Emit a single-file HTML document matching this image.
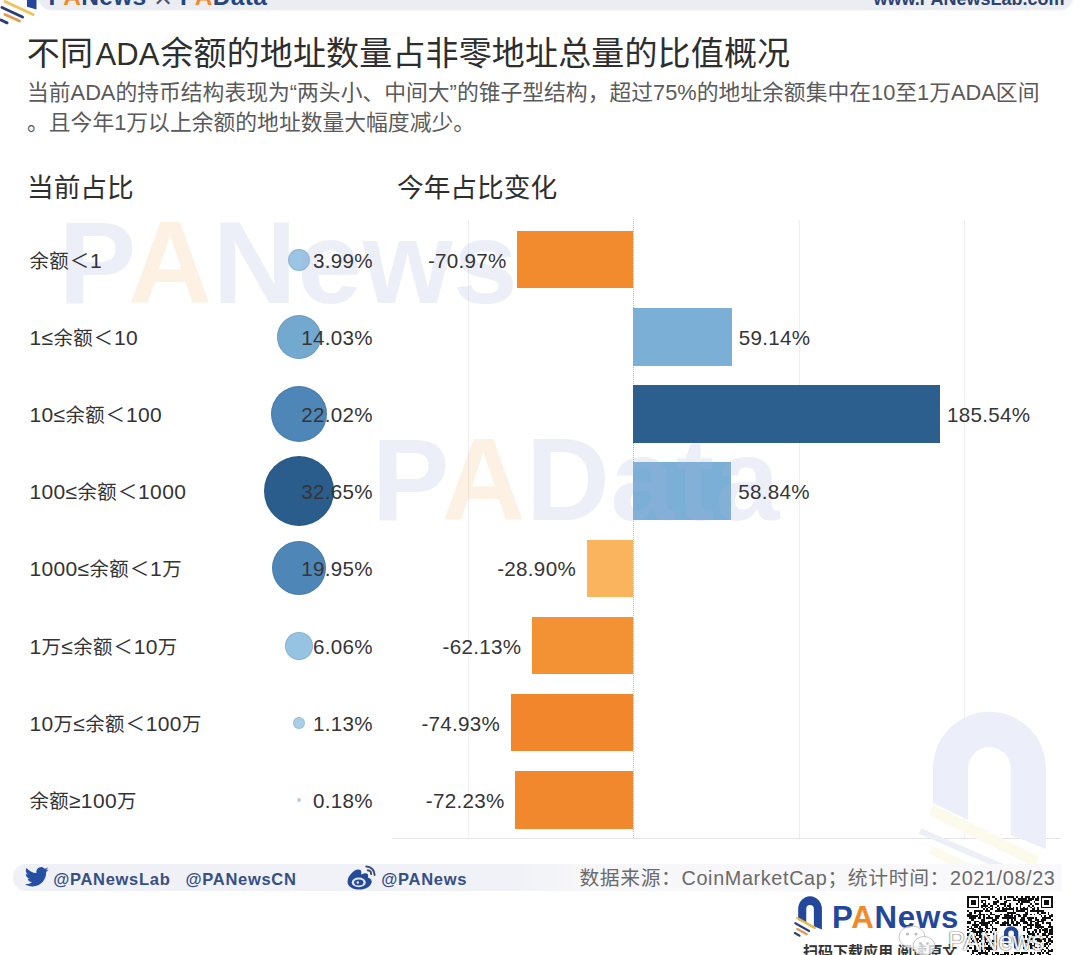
<!DOCTYPE html>
<html lang="zh-CN">
<head>
<meta charset="utf-8">
<title>不同ADA余额的地址数量占非零地址总量的比值概况</title>
<style>
*{margin:0;padding:0;box-sizing:border-box}
html,body{width:1080px;height:955px;overflow:hidden;background:#fff}
body{font-family:"Liberation Sans","Noto Sans CJK SC",sans-serif;color:#333;position:relative}
#wrap{position:absolute;left:0;top:0;width:1080px;height:955px;overflow:hidden;background:#fff}
.abs{position:absolute;white-space:nowrap}
/* header strip */
#topband{left:38px;top:-20px;width:1035px;height:30px;background:#ebedf3;border-radius:0 0 14px 14px;box-shadow:0 0 2.5px #ebedf3}
#brand{left:48.5px;top:-17.5px;font-size:24.5px;line-height:28px;font-weight:700;color:#23467f;letter-spacing:.3px}
#brand i{font-style:normal;color:#f08a2c}
#brand b{font-weight:400;color:#46577f;display:inline-block;width:33.5px;text-align:center;font-size:31px;line-height:0;position:relative;top:3px}
#site{right:15.5px;top:-11px;font-size:18px;line-height:20px;font-weight:700;color:#2c426f}
/* titles */
#title{left:26.8px;top:30.5px;font-size:33px;line-height:46px;color:#2e2e2e;letter-spacing:.15px}
#title span{font-size:31px;letter-spacing:0;margin:0 1px 0 2.5px}
#sub{left:27px;top:77.5px;font-size:21.81px;line-height:30.5px;color:#5a5a5a;white-space:nowrap;width:1050px}
.h2{font-size:26.7px;line-height:37px;color:#2f2f2f}
/* rows */
.lab span{font-size:19.4px}
.lab i{font-style:normal;font-size:19.4px;padding:0 .7px}
.lab{left:29.5px;font-size:21px;letter-spacing:.35px;line-height:30px;color:#333;height:28px}
.pct{font-size:20.6px;letter-spacing:.3px;line-height:30px;height:30px;color:#353535}
.pl{width:120px;left:252.8px;text-align:right}
.dot{border-radius:50%;box-shadow:inset 0 0 0 1px rgba(20,40,80,.1)}
.bar{height:57.6px}
.grid{top:220px;width:1px;height:618px;background:#ededf2}
#zero{left:632.5px;top:219px;width:0;height:619px;border-left:1px dotted #b9b9b9}
#base{left:392px;top:838px;width:668px;height:1px;background:#e3e3e6}
.wm{font-weight:700;letter-spacing:.7px;line-height:1}
.wm .wb{color:rgba(163,180,222,.21)}.wm .wo{color:rgba(246,184,117,.2)}
#wm1{left:58.8px;top:205.3px;font-size:116px}
#wm2{left:372px;top:421.8px;font-size:116px}
#fband{left:13px;top:864px;width:1049px;height:26.5px;background:linear-gradient(90deg,#f0f1f7 0,#f1f2f7 48%,#f7f7fa 54%,#f9f9fb 100%);border-radius:13px 0 0 13px}
.soc{top:867.2px;font-size:16.5px;line-height:24px;font-weight:700;color:#374f84;letter-spacing:.7px}
#src{right:24.5px;top:862.5px;font-size:19.8px;line-height:30px;color:#6a6a6a;letter-spacing:.65px}
#logo{left:832px;top:896px;font-size:31.2px;line-height:44px;font-weight:700;color:#23479a;letter-spacing:.75px}
#logo i{font-style:normal;color:#f08a2c}
#scan{left:803px;top:941px;font-size:15px;line-height:22px;color:#333;font-weight:700}
#qr{left:967px;top:896px;width:86px;height:70px;background:#fff}
#wx{left:948px;top:922.5px;font-size:25.5px;line-height:36px;color:#fff;opacity:.92;text-shadow:0 0 1.5px rgba(40,40,40,.9),0 0 1px rgba(40,40,40,.8);letter-spacing:0}
</style>
</head>
<body>
<div id="wrap">
<div class="abs grid" style="left:468.3px"></div>
<div class="abs grid" style="left:798.8px"></div>
<div class="abs grid" style="left:964.2px"></div>
<div class="abs" id="zero"></div>
<div class="abs" id="base"></div>
<div class="abs" id="topband"></div>
<div class="abs" id="brand">P<i>A</i>News<b>×</b>P<i>A</i>Data</div>
<div class="abs" id="site">www.PANewsLab.com</div>
<div class="abs" id="title">不同<span>ADA</span>余额的地址数量占非零地址总量的比值概况</div>
<div class="abs" id="sub">当前ADA的持币结构表现为“两头小、中间大”的锥子型结构，超过75%的地址余额集中在10至1万ADA区间<br>。且今年1万以上余额的地址数量大幅度减少。</div>
<div class="abs h2" style="left:27px;top:170px">当前占比</div>
<div class="abs h2" style="left:397px;top:170px">今年占比变化</div>
<div class="abs dot" style="left:287.5px;top:248.7px;width:22px;height:22px;background:#9cc4e4"></div>
<div class="abs bar" style="left:517.2px;top:230.9px;width:115.8px;background:#f28a2e"></div>
<div class="abs dot" style="left:276.5px;top:314.9px;width:44px;height:44px;background:#74a9cf"></div>
<div class="abs bar" style="left:633px;top:308.1px;width:98.5px;background:#7bafd6"></div>
<div class="abs dot" style="left:270.5px;top:386.0px;width:56px;height:56px;background:#4f86b8"></div>
<div class="abs bar" style="left:633px;top:385.2px;width:306.7px;background:#2c5e8e"></div>
<div class="abs dot" style="left:263.5px;top:456.2px;width:70px;height:70px;background:#2b5d8c"></div>
<div class="abs bar" style="left:633px;top:462.4px;width:98.0px;background:#7bafd6"></div>
<div class="abs dot" style="left:271.5px;top:541.4px;width:54px;height:54px;background:#4f86b8"></div>
<div class="abs bar" style="left:586.5px;top:539.6px;width:46.5px;background:#fbb45e"></div>
<div class="abs dot" style="left:284.5px;top:631.5px;width:28px;height:28px;background:#97c3e3"></div>
<div class="abs bar" style="left:531.8px;top:616.8px;width:101.2px;background:#f39235"></div>
<div class="abs dot" style="left:292.5px;top:716.7px;width:12px;height:12px;background:#a9cfe6"></div>
<div class="abs bar" style="left:510.7px;top:693.9px;width:122.3px;background:#f2862c"></div>
<div class="abs dot" style="left:296.5px;top:797.9px;width:4px;height:4px;background:#c5dbe6"></div>
<div class="abs bar" style="left:515.1px;top:771.1px;width:117.9px;background:#f2882d"></div>
<div class="abs wm" id="wm1"><span class="wb">P</span><span class="wo">A</span><span class="wb">News</span></div>
<div class="abs wm" id="wm2"><span class="wb">P</span><span class="wo">A</span><span class="wb">Data</span></div>
<div class="abs lab" style="top:245.7px"><span>余额</span><i>＜</i>1</div>
<div class="abs pct pl" style="top:245.7px">3.99%</div>
<div class="abs pct" style="right:573.3px;top:245.7px">-70.97%</div>
<div class="abs lab" style="top:322.9px">1≤<span>余额</span><i>＜</i>10</div>
<div class="abs pct pl" style="top:322.9px">14.03%</div>
<div class="abs pct" style="left:738.8px;top:322.9px">59.14%</div>
<div class="abs lab" style="top:400.0px">10≤<span>余额</span><i>＜</i>100</div>
<div class="abs pct pl" style="top:400.0px">22.02%</div>
<div class="abs pct" style="left:947.0px;top:400.0px">185.54%</div>
<div class="abs lab" style="top:477.2px">100≤<span>余额</span><i>＜</i>1000</div>
<div class="abs pct pl" style="top:477.2px">32.65%</div>
<div class="abs pct" style="left:738.3px;top:477.2px">58.84%</div>
<div class="abs lab" style="top:554.4px">1000≤<span>余额</span><i>＜</i>1<span>万</span></div>
<div class="abs pct pl" style="top:554.4px">19.95%</div>
<div class="abs pct" style="right:504.0px;top:554.4px">-28.90%</div>
<div class="abs lab" style="top:631.5px">1<span>万</span>≤<span>余额</span><i>＜</i>10<span>万</span></div>
<div class="abs pct pl" style="top:631.5px">6.06%</div>
<div class="abs pct" style="right:558.7px;top:631.5px">-62.13%</div>
<div class="abs lab" style="top:708.7px">10<span>万</span>≤<span>余额</span><i>＜</i>100<span>万</span></div>
<div class="abs pct pl" style="top:708.7px">1.13%</div>
<div class="abs pct" style="right:579.8px;top:708.7px">-74.93%</div>
<div class="abs lab" style="top:785.9px"><span>余额</span>≥100<span>万</span></div>
<div class="abs pct pl" style="top:785.9px">0.18%</div>
<div class="abs pct" style="right:575.4px;top:785.9px">-72.23%</div>
<!-- header decorations -->
<svg class="abs" style="left:0;top:0" width="60" height="30" viewBox="0 0 60 30">
  <path d="M27 0h9.5v9.5l-9.5-2.8z" fill="#23479a"/>
  <g stroke-width="3" stroke-linecap="round">
    <path d="M5 1.5 33 14.5" stroke="#f0c35a"/>
    <path d="M2 7.5 22.5 17" stroke="#2b3f73"/>
    <path d="M5 14.5 19.5 21" stroke="#e39a55"/>
    <path d="M1 20 7 22.8" stroke="#2b3f73"/>
  </g>
</svg>
<!-- big faint arch watermark -->
<svg class="abs" style="left:915px;top:700px" width="150" height="175" viewBox="0 0 150 175">
  <path d="M17.900 103V68.300a56.500 56.500 0 0 1 113 0V149l-35.200-14V68.300a21.300 21.300 0 0 0-42.600 0V120z" fill="#eceffa"/>
  <path d="M16 110 122 162" stroke="#fcfaea" stroke-width="11.500"/>
  <path d="M5 131 90 168" stroke="#eceff6" stroke-width="6"/>
  <path d="M16 150 70 176" stroke="#fcfaea" stroke-width="9"/>
</svg>
<!-- footer band -->
<div class="abs" id="fband"></div>
<svg class="abs" style="left:25px;top:866px" width="24" height="22" viewBox="0 0 24 20">
  <path fill="#254fa2" d="M23.6 2.4c-.9.4-1.8.6-2.8.8 1-.6 1.800-1.600 2.100-2.700-.9.600-2 1-3.100 1.200A4.800 4.800 0 0 0 11.500 6c-4-.2-7.600-2.100-10-5.100-.4.700-.7 1.600-.7 2.500 0 1.700.9 3.200 2.200 4-.8 0-1.600-.200-2.200-.600v.1c0 2.400 1.700 4.300 3.900 4.800-.4.100-.8.200-1.300.200-.3 0-.6 0-.9-.1.600 1.900 2.400 3.300 4.500 3.400a9.800 9.800 0 0 1-7.200 2c2.200 1.400 4.700 2.200 7.500 2.200 9 0 13.900-7.400 13.900-13.900v-.6c1-.7 1.800-1.500 2.400-2.500z"/>
</svg>
<div class="abs soc" style="left:53.200px">@PANewsLab</div>
<div class="abs soc" style="left:185.500px">@PANewsCN</div>
<svg class="abs" style="left:346px;top:864px" width="31" height="27" viewBox="0 0 31 27">
  <path fill="#264a96" d="M11.500 5.600c-2.200.300-5.500 2.700-7.800 5.900C1.900 14 1.400 16.500 1.600 18.600c.400 4.300 5.300 7 11.400 7 7 0 12.700-3.900 12.700-8.200 0-2.200-1.800-3.300-3.400-3.700-.400-.100-.600-.200-.400-.700.400-1.100.400-2-.100-2.700-.900-1.300-3.300-1.200-6 0 0 0-.900.400-.700-.300.400-1.400.400-2.900-.500-3.700-.700-.700-1.900-.800-3.100-.700z"/>
  <ellipse cx="12.750" cy="18.400" rx="7" ry="4.900" fill="#dfe8fb"/>
  <ellipse cx="12.750" cy="18.400" rx="4.700" ry="3" fill="#264a96"/>
  <circle cx="11.800" cy="18.500" r="1.200" fill="#e8eefc"/>
  <path fill="none" stroke="#3b4b6d" stroke-width="1.900" stroke-linecap="round" d="M21.800 6.300a3.700 3.700 0 0 1 3.300 3.800M20.300 2.500a8.300 8.300 0 0 1 8.300 8.500"/>
</svg>
<div class="abs soc" style="left:381.300px">@PANews</div>
<div class="abs" id="src">数据来源：CoinMarketCap；统计时间：2021/08/23</div>
<!-- logo -->
<svg class="abs" style="left:791.500px;top:891.500px" width="38" height="52" viewBox="0 0 40 50" preserveAspectRatio="none">
  <path d="M6.500 27V16.500a12.500 12.500 0 0 1 25 0V36l-8.500-3V16.500a4 4 0 0 0-8 0V30z" fill="#23479a"/>
  <g stroke-width="2.200" stroke-linecap="round">
    <path d="M5.500 25 24 34.500" stroke="#e9b64a"/>
    <path d="M3.500 30 18 37.500" stroke="#2b3f73"/>
    <path d="M5.500 35.500 15.500 40.500" stroke="#e39a55"/>
    <path d="M3 39.500 8 42" stroke="#2b3f73"/>
  </g>
</svg>
<div class="abs" id="logo">P<i>A</i>News</div>
<div class="abs" id="scan">扫码下载应用 阅读原文</div>
<!-- QR -->
<svg class="abs" style="left:966.500px;top:896.300px" width="86" height="60" viewBox="0 0 49 34.190" preserveAspectRatio="xMinYMin slice" shape-rendering="crispEdges">
<rect width="49" height="35" fill="#fff"/><path fill="#111" d="M0 0h7v1h-7zM8 0h5v1h-5zM14 0h2v1h-2zM19 0h1v1h-1zM21 0h1v1h-1zM23 0h4v1h-4zM28 0h1v1h-1zM31 0h1v1h-1zM33 0h3v1h-3zM37 0h2v1h-2zM40 0h1v1h-1zM42 0h7v1h-7zM0 1h1v1h-1zM6 1h1v1h-1zM12 1h1v1h-1zM16 1h1v1h-1zM19 1h1v1h-1zM21 1h1v1h-1zM26 1h2v1h-2zM29 1h5v1h-5zM35 1h3v1h-3zM39 1h2v1h-2zM42 1h1v1h-1zM48 1h1v1h-1zM0 2h1v1h-1zM2 2h3v1h-3zM6 2h1v1h-1zM8 2h3v1h-3zM17 2h1v1h-1zM22 2h3v1h-3zM26 2h11v1h-11zM39 2h2v1h-2zM42 2h1v1h-1zM44 2h3v1h-3zM48 2h1v1h-1zM0 3h1v1h-1zM2 3h3v1h-3zM6 3h1v1h-1zM8 3h1v1h-1zM10 3h1v1h-1zM15 3h3v1h-3zM21 3h2v1h-2zM29 3h1v1h-1zM31 3h5v1h-5zM38 3h1v1h-1zM42 3h1v1h-1zM44 3h3v1h-3zM48 3h1v1h-1zM0 4h1v1h-1zM2 4h3v1h-3zM6 4h1v1h-1zM9 4h2v1h-2zM12 4h1v1h-1zM15 4h2v1h-2zM19 4h3v1h-3zM24 4h1v1h-1zM28 4h1v1h-1zM30 4h2v1h-2zM36 4h1v1h-1zM39 4h2v1h-2zM42 4h1v1h-1zM44 4h3v1h-3zM48 4h1v1h-1zM0 5h1v1h-1zM6 5h1v1h-1zM8 5h4v1h-4zM13 5h2v1h-2zM17 5h1v1h-1zM21 5h1v1h-1zM23 5h2v1h-2zM30 5h1v1h-1zM35 5h1v1h-1zM37 5h1v1h-1zM42 5h1v1h-1zM48 5h1v1h-1zM0 6h7v1h-7zM8 6h1v1h-1zM10 6h1v1h-1zM12 6h1v1h-1zM14 6h1v1h-1zM16 6h1v1h-1zM18 6h1v1h-1zM20 6h1v1h-1zM22 6h1v1h-1zM24 6h1v1h-1zM26 6h1v1h-1zM28 6h1v1h-1zM30 6h1v1h-1zM32 6h1v1h-1zM34 6h1v1h-1zM36 6h1v1h-1zM38 6h1v1h-1zM40 6h1v1h-1zM42 6h7v1h-7zM9 7h1v1h-1zM11 7h1v1h-1zM13 7h2v1h-2zM17 7h2v1h-2zM20 7h7v1h-7zM28 7h1v1h-1zM30 7h5v1h-5zM37 7h2v1h-2zM40 7h1v1h-1zM0 8h1v1h-1zM4 8h5v1h-5zM10 8h3v1h-3zM16 8h7v1h-7zM26 8h1v1h-1zM28 8h5v1h-5zM34 8h1v1h-1zM36 8h8v1h-8zM1 9h2v1h-2zM4 9h1v1h-1zM7 9h1v1h-1zM13 9h1v1h-1zM23 9h5v1h-5zM33 9h2v1h-2zM40 9h1v1h-1zM42 9h3v1h-3zM46 9h1v1h-1zM0 10h3v1h-3zM6 10h4v1h-4zM11 10h1v1h-1zM13 10h3v1h-3zM19 10h1v1h-1zM21 10h3v1h-3zM25 10h1v1h-1zM28 10h2v1h-2zM32 10h3v1h-3zM36 10h1v1h-1zM38 10h1v1h-1zM41 10h1v1h-1zM46 10h1v1h-1zM48 10h1v1h-1zM0 11h6v1h-6zM7 11h1v1h-1zM9 11h1v1h-1zM12 11h1v1h-1zM16 11h3v1h-3zM21 11h5v1h-5zM27 11h1v1h-1zM29 11h2v1h-2zM32 11h2v1h-2zM42 11h1v1h-1zM44 11h1v1h-1zM47 11h2v1h-2zM1 12h4v1h-4zM6 12h2v1h-2zM9 12h1v1h-1zM11 12h4v1h-4zM16 12h2v1h-2zM20 12h8v1h-8zM31 12h2v1h-2zM34 12h4v1h-4zM39 12h1v1h-1zM43 12h5v1h-5zM2 13h2v1h-2zM8 13h2v1h-2zM14 13h3v1h-3zM23 13h1v1h-1zM25 13h1v1h-1zM27 13h1v1h-1zM30 13h3v1h-3zM35 13h2v1h-2zM39 13h2v1h-2zM42 13h3v1h-3zM48 13h1v1h-1zM0 14h2v1h-2zM4 14h3v1h-3zM8 14h2v1h-2zM12 14h4v1h-4zM17 14h1v1h-1zM21 14h1v1h-1zM23 14h1v1h-1zM25 14h2v1h-2zM28 14h1v1h-1zM30 14h4v1h-4zM36 14h3v1h-3zM40 14h4v1h-4zM0 15h2v1h-2zM4 15h1v1h-1zM7 15h6v1h-6zM14 15h1v1h-1zM16 15h2v1h-2zM20 15h4v1h-4zM25 15h2v1h-2zM28 15h2v1h-2zM32 15h3v1h-3zM36 15h1v1h-1zM39 15h2v1h-2zM43 15h1v1h-1zM45 15h3v1h-3zM3 16h4v1h-4zM8 16h4v1h-4zM13 16h1v1h-1zM19 16h3v1h-3zM23 16h2v1h-2zM26 16h3v1h-3zM30 16h1v1h-1zM34 16h4v1h-4zM39 16h3v1h-3zM47 16h1v1h-1zM0 17h1v1h-1zM2 17h1v1h-1zM4 17h2v1h-2zM7 17h1v1h-1zM10 17h2v1h-2zM14 17h1v1h-1zM32 17h2v1h-2zM36 17h1v1h-1zM39 17h5v1h-5zM46 17h3v1h-3zM1 18h3v1h-3zM6 18h3v1h-3zM11 18h2v1h-2zM14 18h3v1h-3zM32 18h1v1h-1zM34 18h3v1h-3zM40 18h1v1h-1zM42 18h1v1h-1zM44 18h2v1h-2zM48 18h1v1h-1zM0 19h1v1h-1zM3 19h2v1h-2zM7 19h2v1h-2zM10 19h1v1h-1zM14 19h1v1h-1zM16 19h1v1h-1zM32 19h1v1h-1zM34 19h1v1h-1zM38 19h2v1h-2zM41 19h1v1h-1zM43 19h3v1h-3zM47 19h2v1h-2zM2 20h8v1h-8zM11 20h1v1h-1zM13 20h1v1h-1zM34 20h2v1h-2zM37 20h1v1h-1zM39 20h1v1h-1zM41 20h1v1h-1zM44 20h2v1h-2zM47 20h2v1h-2zM0 21h2v1h-2zM5 21h1v1h-1zM7 21h1v1h-1zM10 21h1v1h-1zM15 21h1v1h-1zM35 21h4v1h-4zM40 21h1v1h-1zM43 21h2v1h-2zM46 21h3v1h-3zM0 22h3v1h-3zM5 22h4v1h-4zM10 22h3v1h-3zM16 22h1v1h-1zM32 22h1v1h-1zM34 22h1v1h-1zM37 22h2v1h-2zM43 22h4v1h-4zM1 23h1v1h-1zM4 23h1v1h-1zM7 23h5v1h-5zM16 23h1v1h-1zM32 23h1v1h-1zM34 23h2v1h-2zM41 23h1v1h-1zM45 23h1v1h-1zM48 23h1v1h-1zM0 24h1v1h-1zM2 24h1v1h-1zM4 24h3v1h-3zM8 24h4v1h-4zM16 24h1v1h-1zM35 24h3v1h-3zM39 24h6v1h-6zM46 24h2v1h-2zM3 25h3v1h-3zM7 25h1v1h-1zM10 25h1v1h-1zM12 25h1v1h-1zM14 25h3v1h-3zM32 25h2v1h-2zM35 25h1v1h-1zM40 25h3v1h-3zM44 25h1v1h-1zM46 25h3v1h-3zM2 26h1v1h-1zM4 26h3v1h-3zM10 26h3v1h-3zM16 26h1v1h-1zM33 26h3v1h-3zM38 26h1v1h-1zM40 26h2v1h-2zM45 26h2v1h-2zM48 26h1v1h-1zM0 27h4v1h-4zM8 27h2v1h-2zM11 27h1v1h-1zM14 27h1v1h-1zM34 27h3v1h-3zM38 27h1v1h-1zM41 27h1v1h-1zM44 27h2v1h-2zM47 27h1v1h-1zM0 28h1v1h-1zM4 28h1v1h-1zM6 28h1v1h-1zM12 28h1v1h-1zM14 28h1v1h-1zM16 28h1v1h-1zM34 28h1v1h-1zM36 28h3v1h-3zM42 28h1v1h-1zM44 28h1v1h-1zM46 28h1v1h-1zM1 29h2v1h-2zM4 29h1v1h-1zM8 29h6v1h-6zM15 29h2v1h-2zM32 29h2v1h-2zM36 29h4v1h-4zM41 29h2v1h-2zM45 29h1v1h-1zM4 30h1v1h-1zM6 30h1v1h-1zM8 30h1v1h-1zM11 30h6v1h-6zM34 30h1v1h-1zM38 30h1v1h-1zM41 30h1v1h-1zM43 30h1v1h-1zM46 30h1v1h-1zM48 30h1v1h-1zM0 31h1v1h-1zM3 31h3v1h-3zM8 31h1v1h-1zM10 31h1v1h-1zM12 31h1v1h-1zM42 31h1v1h-1zM44 31h1v1h-1zM46 31h3v1h-3zM3 32h1v1h-1zM6 32h6v1h-6zM14 32h1v1h-1zM16 32h2v1h-2zM21 32h3v1h-3zM27 32h3v1h-3zM31 32h4v1h-4zM36 32h1v1h-1zM38 32h1v1h-1zM40 32h2v1h-2zM43 32h1v1h-1zM45 32h2v1h-2zM2 33h1v1h-1zM5 33h1v1h-1zM7 33h1v1h-1zM10 33h2v1h-2zM14 33h2v1h-2zM17 33h1v1h-1zM19 33h3v1h-3zM23 33h1v1h-1zM25 33h1v1h-1zM27 33h1v1h-1zM30 33h2v1h-2zM36 33h2v1h-2zM41 33h1v1h-1zM46 33h2v1h-2z"/>
<path d="M21.050 27V21.300a4.100 4.100 0 0 1 8.200 0V30.500l-2.500-.9V21.300a1.600 1.600 0 0 0-3.200 0V28z" fill="#23479a" shape-rendering="auto"/>
</svg>
<!-- wechat watermark -->
<svg class="abs" style="left:896px;top:924px" width="42" height="34" viewBox="0 0 42 34">
  <g fill="#fff" fill-opacity=".75" stroke="#9a9a9a" stroke-opacity=".55" stroke-width="1">
    <ellipse cx="16" cy="13" rx="13" ry="11"/>
    <ellipse cx="28" cy="22" rx="11" ry="9.500"/>
  </g>
  <g fill="#8a8a8a" fill-opacity=".6"><circle cx="11.500" cy="10" r="1.500"/><circle cx="20" cy="10" r="1.500"/><circle cx="24.500" cy="19.500" r="1.300"/><circle cx="31.500" cy="19.500" r="1.300"/></g>
</svg>
<div class="abs" id="wx">PANews</div>

</div>
</body>
</html>
